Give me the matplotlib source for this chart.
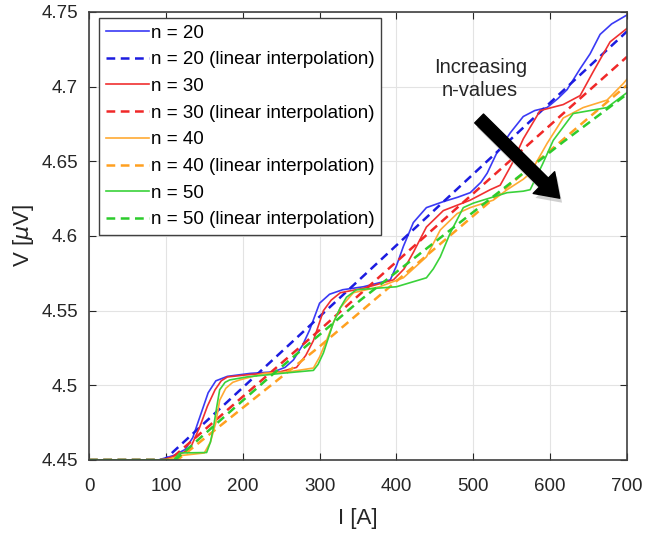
import numpy as np
import matplotlib.pyplot as plt

# curvas "reales" (I en A, V en uV)
I_n20 = [0, 90, 110, 125, 135, 145, 155, 165, 180, 210, 240, 255, 266, 278, 287, 300, 313,
         330, 357, 380, 392, 400, 409, 422, 439, 461, 480, 496, 510, 518, 530, 548, 565,
         580, 596, 610, 622, 639, 652, 665, 680, 700]
V_n20 = [4.45, 4.45, 4.453, 4.457, 4.465, 4.48, 4.495, 4.503, 4.506, 4.508, 4.509, 4.512,
         4.517, 4.527, 4.537, 4.555, 4.561, 4.564, 4.566, 4.569, 4.5706, 4.580, 4.593, 4.609,
         4.619, 4.623, 4.626, 4.629, 4.636, 4.642, 4.655, 4.669, 4.680, 4.684, 4.686, 4.692,
         4.698, 4.712, 4.722, 4.735, 4.742, 4.748]

I_n30 = [0, 95, 114, 131, 144, 154, 164, 172, 180, 205, 248, 270, 282, 292, 305, 315, 327,
         357, 396, 410, 422, 439, 461, 496, 522, 535, 550, 565, 587, 617, 639, 656, 678, 700]
V_n30 = [4.45, 4.45, 4.453, 4.457, 4.472, 4.486, 4.497, 4.503, 4.5056, 4.507, 4.509, 4.512,
         4.520, 4.530, 4.550, 4.557, 4.562, 4.565, 4.5706, 4.578, 4.589, 4.606, 4.617, 4.624,
         4.631, 4.634, 4.648, 4.665, 4.684, 4.688, 4.694, 4.710, 4.730, 4.739]

I_n40 = [0, 100, 120, 150, 158, 165, 170, 178, 187, 196, 228, 260, 292, 300, 309, 318, 327,
         344, 378, 409, 439, 448, 457, 479, 496, 526, 544, 565, 574, 585, 596, 617, 643, 674,
         695, 700]
V_n40 = [4.45, 4.45, 4.453, 4.4547, 4.462, 4.475, 4.49, 4.498, 4.502, 4.5036, 4.508, 4.509,
         4.5116, 4.519, 4.530, 4.542, 4.552, 4.562, 4.566, 4.572, 4.586, 4.595, 4.604, 4.615,
         4.619, 4.624, 4.631, 4.638, 4.642, 4.652, 4.662, 4.679, 4.686, 4.691, 4.702, 4.705]

I_n50 = [0, 110, 118, 153, 158, 162, 166, 170, 177, 183, 205, 250, 292, 298, 305, 318, 327,
         335, 348, 400, 439, 448, 457, 470, 487, 500, 544, 565, 574, 590, 604, 630, 674, 700]
V_n50 = [4.45, 4.45, 4.4547, 4.455, 4.462, 4.472, 4.485, 4.497, 4.502, 4.5036, 4.5056, 4.508,
         4.510, 4.514, 4.5217, 4.542, 4.552, 4.559, 4.564, 4.566, 4.572, 4.578, 4.586, 4.602,
         4.619, 4.622, 4.629, 4.630, 4.631, 4.648, 4.664, 4.682, 4.686, 4.696]

# interpolaciones lineales
I_lin20 = [0, 98, 300, 700]
V_lin20 = [4.45, 4.45, 4.546, 4.737]
I_lin30 = [0, 105, 300, 700]
V_lin30 = [4.45, 4.45, 4.537, 4.720]
I_lin40 = [0, 115, 300, 700]
V_lin40 = [4.45, 4.45, 4.526, 4.701]
I_lin50 = [0, 112, 235, 353, 617, 700]
V_lin50 = [4.45, 4.45, 4.5056, 4.557, 4.663, 4.695]

etiquetas = ["n = 20", "n = 20 (linear interpolation)",
             "n = 30", "n = 30 (linear interpolation)",
             "n = 40", "n = 40 (linear interpolation)",
             "n = 50", "n = 50 (linear interpolation)"]

plt.rcParams['font.family'] = ['Liberation Sans', 'DejaVu Sans']

fig = plt.figure(figsize=(6.46, 5.35), dpi=100)
ax = fig.add_axes([0.1378, 0.1402, 0.8328, 0.8374])

series = [(I_n20, V_n20, I_lin20, V_lin20, '#3a3af5', '#1c1ce0'),
          (I_n30, V_n30, I_lin30, V_lin30, '#f03030', '#f02828'),
          (I_n40, V_n40, I_lin40, V_lin40, '#ffaa33', '#ffa020'),
          (I_n50, V_n50, I_lin50, V_lin50, '#3ad23a', '#2ccc2c')]

k = 0
for Ix, Vy, Il, Vl, c1, c2 in series:
    ax.plot(Ix, Vy, '-', color=c1, lw=1.2, label=etiquetas[k])
    ax.plot(Il, Vl, '--', color=c2, lw=1.8, dashes=(3.5, 2.2), label=etiquetas[k + 1])
    k += 2

ax.set_xlim(0, 700)
ax.set_ylim(4.45, 4.75)
ax.set_xticks(range(0, 701, 100))
ax.set_yticks([4.45, 4.5, 4.55, 4.6, 4.65, 4.7, 4.75])
ax.set_yticklabels(["4.45", "4.5", "4.55", "4.6", "4.65", "4.7", "4.75"])
ax.tick_params(direction='in', top=True, right=True, labelsize=13.5,
               colors='#262626', length=5)
ax.tick_params(axis='x', pad=13)
ax.tick_params(axis='y', pad=8)
ax.grid(True, color='#e3e3e3', lw=0.8)
for s in ax.spines.values():
    s.set_color('#404040')
    s.set_linewidth(1.2)

ax.set_xlabel("I [A]", fontsize=16, color='#262626', labelpad=9)
ax.set_ylabel(r"V [$\mu$V]", fontsize=16, color='#262626', labelpad=4)

leg = ax.legend(loc='upper left', fontsize=13.5, handlelength=2.3, handletextpad=0.12,
                labelspacing=0.51, borderaxespad=0, borderpad=0.35, fancybox=False,
                bbox_to_anchor=(0.0186, 0.9866), framealpha=1)
leg.get_frame().set_edgecolor('#404040')
leg.get_frame().set_linewidth(1.0)

# flecha "Increasing n-values" con sombra
ax.annotate("", xy=(618, 4.621), xytext=(508, 4.677),
            arrowprops=dict(arrowstyle="simple,head_length=0.8,head_width=1.1,tail_width=0.45",
                            fc='#b0b0b0', ec='none', mutation_scale=20, alpha=0.6))
ax.annotate("", xy=(615, 4.624), xytext=(505, 4.68),
            arrowprops=dict(arrowstyle="simple,head_length=0.8,head_width=1.1,tail_width=0.45",
                            fc='black', ec='black', mutation_scale=20))
ax.text(509, 4.705, "Increasing\nn-values", ha='center', va='center', fontsize=14.5,
        color='#262626', linespacing=1.3)

plt.savefig("out.png", dpi=100)
